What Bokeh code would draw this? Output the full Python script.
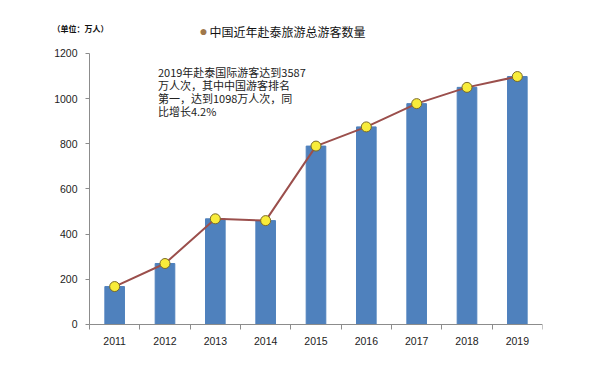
from bokeh.plotting import figure
from bokeh.models import Range1d, FixedTicker, Label
from bokeh.embed import file_html
from bokeh.resources import INLINE

years = [2011, 2012, 2013, 2014, 2015, 2016, 2017, 2018, 2019]
visitors = [168, 270, 468, 460, 790, 875, 978, 1050, 1098]
y_ticks = [0, 200, 400, 600, 800, 1000, 1200]
series_name = "中国近年赴泰旅游总游客数量"
unit_text = "（单位：万人）"
note_lines = ["2019年赴泰国际游客达到3587", "万人次，其中中国游客排名", "第一，达到1098万人次，同", "比增长4.2%"]

FONT = "Liberation Sans"
CJK = "Noto Sans CJK SC"

x0, x1 = years[0] - 0.5, years[-1] + 0.5
y_max = y_ticks[-1]
# frame is extended up/left/down so that header texts and tick labels sit inside it
p = figure(width=608, height=376, output_backend="svg", toolbar_location=None,
           x_range=Range1d(2009.626, x1), y_range=Range1d(-141.7, 1381.5),
           min_border_left=45, min_border_right=66, min_border_top=12, min_border_bottom=20)
p.outline_line_color = None
p.xgrid.visible = False
p.ygrid.visible = False
p.background_fill_color = "white"
p.border_fill_color = "white"

p.vbar(x=years, top=visitors, bottom=0, width=0.39, color="#4F81BD")
p.line(x=years, y=visitors, line_color="#9B4F4C", line_width=2)
p.scatter(x=years, y=visitors, size=10, fill_color="#F8EC3A", line_color="#7A6A2A", line_width=1)

xa = p.xaxis[0]
xa.fixed_location = 0
xa.bounds = (x0, x1)
xa.ticker = FixedTicker(ticks=years, minor_ticks=[y - 0.5 for y in years] + [x1])
xa.major_tick_line_color = None
xa.major_tick_out = 0
xa.major_tick_in = 0
xa.minor_tick_out = 5
xa.minor_tick_in = 0
xa.minor_tick_line_color = "#8C8C8C"
xa.axis_line_color = "#8C8C8C"
xa.major_label_text_font = FONT
xa.major_label_text_font_size = "10.5px"
xa.major_label_text_color = "#222222"
xa.major_label_standoff = 8

ya = p.yaxis[0]
ya.fixed_location = x0
ya.bounds = (0, y_max)
ya.ticker = FixedTicker(ticks=y_ticks)
ya.minor_tick_line_color = None
ya.major_tick_out = 4
ya.major_tick_in = 0
ya.major_tick_line_color = "#8C8C8C"
ya.axis_line_color = "#8C8C8C"
ya.major_label_text_font = FONT
ya.major_label_text_font_size = "10.5px"
ya.major_label_text_color = "#222222"
ya.major_label_standoff = 8

# legend marker and text
p.add_layout(Label(x=2012.765, y=1297.4, text="●", text_color="#A0784A",
                   text_font_size="14px", text_align="center", text_baseline="middle"))
p.add_layout(Label(x=2012.884, y=1297.4, text=series_name, text_color="#111111",
                   text_font=CJK, text_font_size="12px", text_baseline="middle"))
# unit label
p.add_layout(Label(x=2009.765, y=1310.7, text=unit_text, text_color="#111111",
                   text_font=CJK, text_font_size="8px", text_font_style="bold", text_baseline="middle"))
# annotation
for i, line in enumerate(note_lines):
    p.add_layout(Label(x=2011.86, y=1116 - i * 57.6, text=line, text_color="#222222", text_font=CJK,
                       text_font_size="11px", text_baseline="middle"))

open("out.html", "w").write(file_html(p, INLINE))
